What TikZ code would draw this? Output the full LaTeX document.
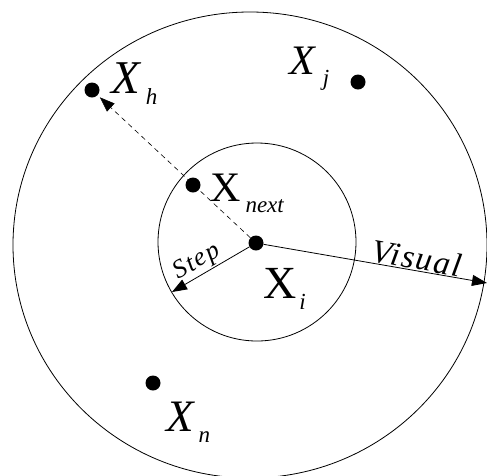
\documentclass[tikz,border=0pt]{standalone}
\usepackage{fontspec}
\setmainfont{Liberation Serif}
\usetikzlibrary{arrows.meta}
\tikzset{
  dot/.style={circle,fill=black,inner sep=0pt,minimum size=15pt},
  lbl/.style={anchor=base west,inner sep=0pt},
  thinline/.style={line width=0.8pt},
  tip/.style={-{Triangle[length=15pt,width=11pt]}},
}
\newcommand{\Xlab}[4]{{\fontsize{#1}{#1}\selectfont #2X}\hspace{#4}\raisebox{-11pt}{\fontsize{23}{23}\selectfont\itshape #3}}
\begin{document}
\begin{tikzpicture}[x=1pt,y=-1pt]
\useasboundingbox (0,0) rectangle (487,475);
\draw[thinline] (250,245) ellipse [x radius=237, y radius=233];
\draw[thinline] (257,242) circle [radius=99];
\node[dot] (Xi) at (256,243) {};
\node[dot] (Xh) at (92,90) {};
\node[dot] (Xj) at (358,82) {};
\node[dot] (Xnext) at (193,185) {};
\node[dot] (Xn) at (153,383) {};
\coordinate (stepend) at (172,292);
\coordinate (visend) at (487,283);
\draw[thinline,tip] (Xi) -- (stepend);
\draw[thinline,tip] (Xi) -- (visend);
\draw[line width=0.6pt,dash pattern=on 5pt off 4pt,tip,shorten >=3pt] (Xi) -- (Xh);
\node[lbl] (LXh) at (111,93) {\Xlab{47}{\itshape}{h}{6pt}};
\node[lbl] (LXj) at (289,74) {\Xlab{42}{\itshape}{j}{8pt}};
\node[lbl] (LXnext) at (210,201) {\Xlab{42}{}{next}{5pt}};
\node[lbl] (LXi) at (263,298) {\Xlab{46}{}{i}{3pt}};
\node[lbl] (LXn) at (166,431) {\Xlab{45}{\itshape}{n}{5pt}};
\node[rotate=30,inner sep=0pt] (Lstep) at (197,262) {\fontsize{26}{26}\selectfont\itshape\addfontfeature{LetterSpace=6}Step};
\node[rotate=-10,inner sep=0pt] (Lvis) at (417,258) {\fontsize{33}{33}\selectfont\itshape\addfontfeature{LetterSpace=5}Visual};
\end{tikzpicture}
\end{document}
